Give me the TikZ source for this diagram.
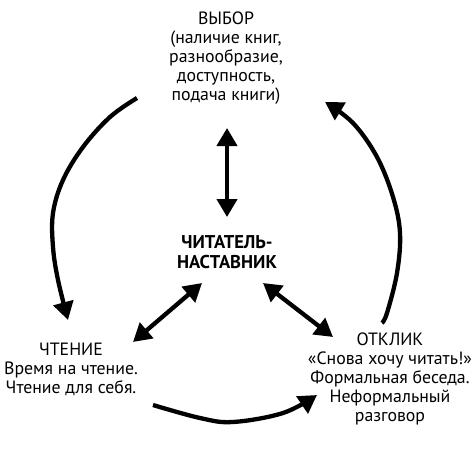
\documentclass[tikz,border=0pt]{standalone}
\usepackage{fontspec}
\setmainfont{PT Sans}
\usetikzlibrary{arrows.meta}
\tikzset{
  lbl/.style={align=center, inner sep=0pt, font=\fontsize{17.8}{19}\selectfont},
  hub/.style={align=center, inner sep=0pt, font=\fontsize{18.5}{20}\selectfont\bfseries},
  flow/.style={line width=4.3pt, -{Triangle[width=20pt,length=18pt]}},
  link/.style={line width=4.3pt, {Triangle[width=20pt,length=18pt]}-{Triangle[width=20pt,length=18pt]}}
}
\begin{document}
\begin{tikzpicture}[x=1pt,y=-1pt]
\useasboundingbox (0,0) rectangle (474,450);
\node[lbl] (vybor) at (226,58) {ВЫБОР\\(наличие книг,\\разнообразие,\\доступность,\\подача книги)};
\node[hub] (hub) at (227,252) {ЧИТАТЕЛЬ-\\НАСТАВНИК};
\node[lbl] (chtenie) at (71,369) {ЧТЕНИЕ\\Время на чтение.\\Чтение для себя.};
\node[lbl] (otklik) at (390,379) {ОТКЛИК\\«Снова хочу читать!»\\Формальная беседа.\\Неформальный\\разговор};
% double arrows
\coordinate (vt) at (227,128);
\coordinate (vb) at (227,217);
\coordinate (lt) at (202,283);
\coordinate (lb) at (133,342);
\coordinate (rt) at (263,283);
\coordinate (rb) at (333,337);
\draw[link] (vt) -- (vb);
\draw[link] (lt) -- (lb);
\draw[link] (rt) -- (rb);
% cycle arcs
\draw[flow] plot[smooth, tension=0.6] coordinates {(137,98) (110,117) (83,147) (63,180) (53,213) (53,247) (58,280) (68,320)};
\draw[flow] plot[smooth, tension=0.6] coordinates {(153,405) (200,418) (233,422) (283,413) (317,395)};
\draw[flow] plot[smooth, tension=0.6] coordinates {(382,323) (387,313) (397,273) (400,233) (393,197) (377,157) (353,123) (325,102)};
\end{tikzpicture}
\end{document}
